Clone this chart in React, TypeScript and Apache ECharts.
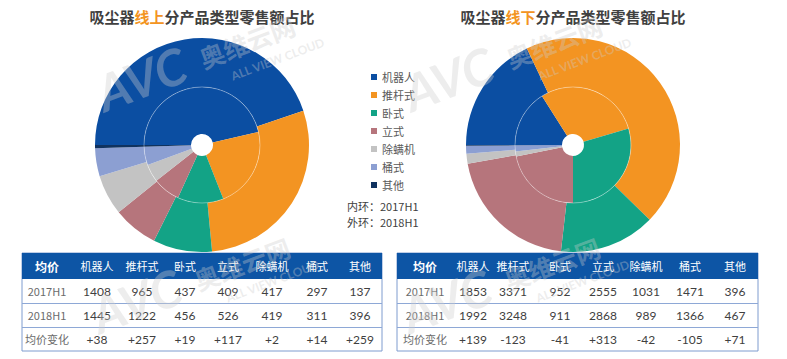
import React, { useEffect, useRef } from "react";
import * as echarts from "echarts";

const categories = ["机器人", "推杆式", "卧式", "立式", "除螨机", "桶式", "其他"];
const colors = ["#0b4ea2", "#f39422", "#13a386", "#b6757c", "#c3c3c3", "#8c9fd2", "#10325f"];

// share of retail sales (%)
const online2017 = [46.4, 22.6, 12.8, 7.6, 5.0, 5.1, 0.5];
const online2018 = [44.8, 28.7, 8.9, 6.8, 6.1, 4.2, 0.5];
const offline2017 = [16.0, 29.4, 29.6, 21.8, 1.4, 1.7, 0.1];
const offline2018 = [17.9, 44.4, 14.5, 20.4, 1.5, 1.2, 0.1];

// average price table
const rowLabels = ["2017H1", "2018H1", "均价变化"];
const onlinePrice2017 = ["1408", "965", "437", "409", "417", "297", "137"];
const onlinePrice2018 = ["1445", "1222", "456", "526", "419", "311", "396"];
const onlineChange = ["+38", "+257", "+19", "+117", "+2", "+14", "+259"];
const offlinePrice2017 = ["1853", "3371", "952", "2555", "1031", "1471", "396"];
const offlinePrice2018 = ["1992", "3248", "911", "2868", "989", "1366", "467"];
const offlineChange = ["+139", "-123", "-41", "+313", "-42", "-105", "+71"];

const CN = "'Noto Sans CJK SC', 'Microsoft YaHei', sans-serif";
const NUM = "Lato, 'Noto Sans CJK SC', sans-serif";

function buildTable(x0: number, x1: number, cols: number[], rows: string[][]) {
  const els: any[] = [];
  const yTop = 253;
  const headH = 26;
  const rowH = 24;
  const yBottom = yTop + headH + rowH * 3;
  els.push({ type: "rect", shape: { x: x0, y: yTop, width: x1 - x0, height: yBottom - yTop }, style: { fill: "#fff", stroke: "#7f9ccf", lineWidth: 1 }, z: 1 });
  els.push({ type: "rect", shape: { x: x0, y: yTop, width: x1 - x0, height: headH }, style: { fill: "#0d55a5" }, z: 2 });
  for (let r = 1; r < 3; r++) {
    const y = yTop + headH + rowH * r + 0.5;
    els.push({ type: "line", shape: { x1: x0, y1: y, x2: x1, y2: y }, style: { stroke: "#8ea8d6", lineWidth: 1 }, z: 2 });
  }
  const header = ["均价", ...categories];
  header.forEach((h, i) => {
    els.push({
      type: "text", x: cols[i], y: yTop + headH / 2, z: 3,
      style: { text: h, fill: "#fff", font: `${i === 0 ? "bold 12px" : "11px"} ${CN}`, align: "center", verticalAlign: "middle" },
    });
  });
  rows.forEach((row, r) => {
    const yc = yTop + headH + rowH * r + rowH / 2;
    els.push({
      type: "text", x: cols[0], y: yc, z: 3,
      style: { text: rowLabels[r], fill: "#6b6b6b", font: `11px ${CN}`, align: "center", verticalAlign: "middle" },
    });
    row.forEach((v, i) => {
      els.push({
        type: "text", x: cols[i + 1], y: yc, z: 3,
        style: { text: v, fill: "#404040", font: `12px ${NUM}`, align: "center", verticalAlign: "middle" },
      });
    });
  });
  return els;
}

function watermark(x: number, y: number) {
  const fill = "rgba(205,205,205,0.36)";
  return {
    type: "group", x, y, rotation: 0.36, z: 50, silent: true,
    children: [
      { type: "text", z: 50, x: 0, y: 0, style: { text: "AVC", fill, font: `italic bold 50px ${NUM}`, verticalAlign: "bottom" } },
      { type: "text", z: 50, x: 108, y: -10, style: { text: "奥维云网", fill, font: `bold 25px ${CN}`, verticalAlign: "bottom" } },
      { type: "text", z: 50, x: 131, y: 5, style: { text: "ALL VIEW CLOUD", fill, font: `bold 12px ${NUM}`, verticalAlign: "middle" } },
    ],
  };
}

function pieSeries(name: string, center: number[], radius: number[], values: number[]) {
  return {
    type: "pie", name, center, radius, startAngle: 180, clockwise: true, silent: true, z: 2,
    label: { show: false }, labelLine: { show: false }, avoidLabelOverlap: false,
    itemStyle: { borderWidth: 0 },
    data: categories.map((c, i) => ({ name: c, value: values[i], itemStyle: { color: colors[i] } })),
  };
}

export default function App() {
  const ref = useRef<HTMLDivElement>(null);
  useEffect(() => {
    if (!ref.current) return;
    const chart = echarts.init(ref.current, undefined, { renderer: "svg" });
    const cL = [202, 145];
    const cR = [573, 145];
    const titleRich = {
      a: { fontSize: 15, fontWeight: "bold", fill: "#404040", fontFamily: CN },
      b: { fontSize: 15, fontWeight: "bold", fill: "#f39422", fontFamily: CN },
    };
    const option: any = {
      animation: false,
      backgroundColor: "#fff",
      color: colors,
      legend: {
        orient: "vertical", left: 366, top: 65, itemWidth: 6, itemHeight: 6, itemGap: 4, icon: "rect",
        selectedMode: false, data: categories,
        textStyle: { fontSize: 11, lineHeight: 14, color: "#595959", fontFamily: CN },
      },
      series: [
        pieSeries("线上2017H1", cL, [11, 58], online2017),
        pieSeries("线上2018H1", cL, [58, 107], online2018),
        pieSeries("线下2017H1", cR, [11, 58], offline2017),
        pieSeries("线下2018H1", cR, [58, 107], offline2018),
      ],
      graphic: [
        { type: "text", x: 202, y: 16, z: 10, style: { text: "{a|吸尘器}{b|线上}{a|分产品类型零售额占比}", align: "center", verticalAlign: "middle", rich: titleRich } },
        { type: "text", x: 573, y: 16, z: 10, style: { text: "{a|吸尘器}{b|线下}{a|分产品类型零售额占比}", align: "center", verticalAlign: "middle", rich: titleRich } },
        { type: "circle", shape: { cx: cL[0], cy: cL[1], r: 58 }, style: { fill: "none", stroke: "rgba(255,255,255,0.35)", lineWidth: 1 }, z: 20, silent: true },
        { type: "circle", shape: { cx: cR[0], cy: cR[1], r: 58 }, style: { fill: "none", stroke: "rgba(255,255,255,0.35)", lineWidth: 1 }, z: 20, silent: true },
        { type: "text", x: 347, y: 206, style: { text: "内环：2017H1", fill: "#404040", font: `11px ${CN}`, verticalAlign: "middle" } },
        { type: "text", x: 347, y: 222, style: { text: "外环：2018H1", fill: "#404040", font: `11px ${CN}`, verticalAlign: "middle" } },
        ...buildTable(22, 382, [47, 97, 142, 185, 228, 272, 317, 360], [onlinePrice2017, onlinePrice2018, onlineChange]),
        ...buildTable(397, 758, [425, 473, 513, 560, 603, 646, 690, 735], [offlinePrice2017, offlinePrice2018, offlineChange]),
        watermark(107, 118),
        watermark(414, 118),
        watermark(102, 340),
        watermark(412, 340),
      ],
    };
    chart.setOption(option);
    return () => chart.dispose();
  }, []);
  return <div ref={ref} style={{ position: "fixed", left: 0, top: 0, width: 787, height: 359 }} />;
}
